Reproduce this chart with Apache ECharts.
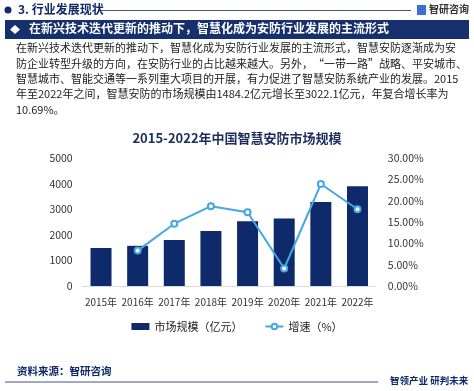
<!DOCTYPE html>
<html><head><meta charset="utf-8">
<script src="https://cdn.jsdelivr.net/npm/echarts@6/dist/echarts.min.js"></script>
<style>html,body{margin:0;padding:0;background:#fff}#c{width:474px;height:391px}</style>
</head><body><div id="c"></div>
<script>
var categories = ['2015年','2016年','2017年','2018年','2019年','2020年','2021年','2022年'];
var marketSize = [1484.2, 1570, 1800, 2150, 2530, 2640, 3280, 3900];
var growth = [null, 8.3, 14.6, 18.7, 17.3, 4.1, 23.9, 18.0];
var leftTicks = [0, 5000, 1000];
var rightTicks = [0, 30, 5];
var paragraph = [
 '在新兴技术迭代更新的推动下，智慧化成为安防行业发展的主流形式，智慧安防逐渐成为安',
 '防企业转型升级的方向，在安防行业的占比越来越大。另外，“一带一路”战略、平安城市、',
 '智慧城市、智能交通等一系列重大项目的开展，有力促进了智慧安防系统产业的发展。2015',
 '年至2022年之间，智慧安防的市场规模由1484.2亿元增长至3022.1亿元，年复合增长率为',
 '10.69%。'
];
var FONT = '"Noto Sans CJK SC", "Noto Sans", sans-serif';
var NAVY = '#0f2a6b';
var BLUE = '#45a6e3';

var chart = echarts.init(document.getElementById('c'), null, {renderer:'canvas'});
var g = [];
// header
g.push({type:'circle', shape:{cx:8,cy:10,r:3.5}, style:{fill:NAVY}});
g.push({type:'text', left:18, top:3, style:{text:'3. 行业发展现状', font:'bold 12px '+FONT, fill:NAVY}});
g.push({type:'line', shape:{x1:100,y1:10.5,x2:411,y2:10.5}, style:{stroke:NAVY, lineWidth:0.8}});
g.push({type:'rect', shape:{x:417,y:5,width:9,height:10}, style:{fill:'#3b6fd4'}});
g.push({type:'text', left:429, top:4, style:{text:'智研咨询', font:'bold 10px '+FONT, fill:'#333'}});
// banner
g.push({type:'rect', shape:{x:5,y:20,width:464,height:19}, style:{fill:'#16306e'}});
g.push({type:'polygon', shape:{points:[[10,29.5],[15,25],[20,29.5],[15,34]]}, style:{fill:'#fff'}});
g.push({type:'text', left:29, top:22, style:{text:'在新兴技术迭代更新的推动下，智慧化成为安防行业发展的主流形式', font:'bold 12px '+FONT, fill:'#fff'}});
// paragraph
for (var i=0;i<paragraph.length;i++){
  g.push({type:'text', left:16, top:42.5+i*15.4, style:{text:paragraph[i], font:'11px '+FONT, fill:'#222'}});
}
// footer
g.push({type:'text', left:17, top:366, style:{text:'资料来源：智研咨询', font:'bold 10.5px '+FONT, fill:NAVY}});
g.push({type:'line', shape:{x1:5,y1:382,x2:378,y2:382}, style:{stroke:NAVY, lineWidth:0.8}});
g.push({type:'text', left:390, top:376, style:{text:'智领产业 研判未来', font:'bold 9.5px '+FONT, fill:NAVY}});

chart.setOption({
  animation:false,
  backgroundColor:'#fff',
  title:{text:'2015-2022年中国智慧安防市场规模', left:'center', top:127,
    textStyle:{fontFamily:FONT, fontSize:13, fontWeight:'bold', color:'#1c2d5e'}},
  legend:{bottom:54, left:'center', itemGap:22, itemWidth:18, itemHeight:7,
    textStyle:{fontFamily:FONT, fontSize:11, color:'#222'},
    data:[{name:'市场规模（亿元）', icon:'rect'},{name:'增速（%）'}]},
  grid:{left:82.7, right:98.2, top:158, bottom:105},
  xAxis:{type:'category', data:categories,
    axisLine:{lineStyle:{color:'#d9d9d9'}}, axisTick:{show:false},
    axisLabel:{fontFamily:FONT, fontSize:10, color:'#333', margin:11, interval:0}},
  yAxis:[
    {type:'value', min:leftTicks[0], max:leftTicks[1], interval:leftTicks[2],
     splitLine:{show:false}, axisLine:{show:false}, axisTick:{show:false},
     axisLabel:{fontFamily:FONT, fontSize:10.5, color:'#333', margin:10,
       formatter:function(v){return String(v);}}},
    {type:'value', min:rightTicks[0], max:rightTicks[1], interval:rightTicks[2],
     splitLine:{show:false}, axisLine:{show:false}, axisTick:{show:false},
     axisLabel:{fontFamily:FONT, fontSize:10.5, color:'#333', margin:12,
       formatter:function(v){return v.toFixed(2)+'%';}}}
  ],
  series:[
    {name:'市场规模（亿元）', type:'bar', data:marketSize, barWidth:21,
     itemStyle:{color:NAVY}},
    {name:'增速（%）', type:'line', yAxisIndex:1, data:growth,
     symbol:'emptyCircle', symbolSize:6, lineStyle:{color:BLUE, width:2},
     itemStyle:{color:BLUE, borderColor:BLUE, borderWidth:1.5}}
  ],
  graphic:g
});
</script></body></html>
